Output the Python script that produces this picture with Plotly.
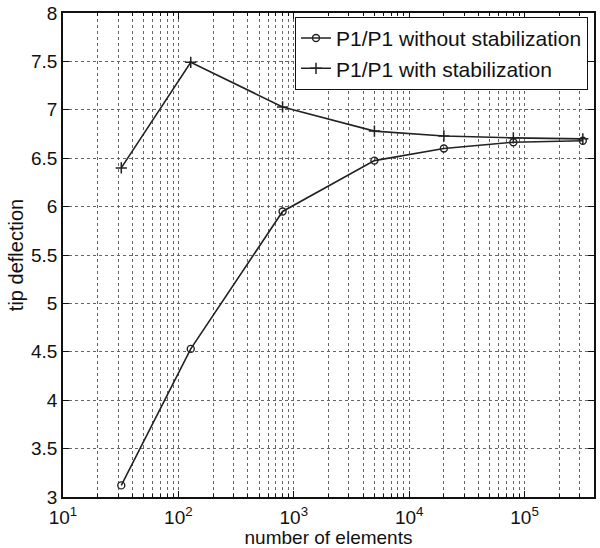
import numpy as np
import plotly.graph_objects as go

# number of elements (x) and tip deflection for the two formulations
n_elements = [32, 128, 800, 5000, 20000, 80000, 320000]
without_stab = [3.12, 4.53, 5.95, 6.475, 6.60, 6.665, 6.68]
with_stab = [6.40, 7.49, 7.03, 6.78, 6.73, 6.71, 6.70]

x_major = [10, 100, 1000, 10000, 100000]
x_major_text = ["10<sup>1</sup>", "10<sup>2</sup>", "10<sup>3</sup>",
                "10<sup>4</sup>", "10<sup>5</sup>"]
x_minor = [k * 10 ** e for e in range(1, 6) for k in range(2, 10) if k * 10 ** e < 400000]

line_color = "#222222"
grid_color = "#666666"
font_family = "Liberation Sans, Arial, sans-serif"

fig = go.Figure()

fig.add_trace(
    go.Scatter(
        x=n_elements,
        y=without_stab,
        mode="lines+markers",
        name="P1/P1 without stabilization",
        line=dict(color=line_color, width=1.6),
        marker=dict(symbol="circle-open", size=7, color=line_color, line=dict(width=1.4))
    )
)

fig.add_trace(
    go.Scatter(
        x=n_elements,
        y=with_stab,
        mode="lines+markers",
        name="P1/P1 with stabilization",
        line=dict(color=line_color, width=1.6),
        marker=dict(symbol="cross-thin-open", size=8, color=line_color, line=dict(width=1.5, color=line_color))
    )
)

fig.update_layout(
    width=600,
    height=548,
    margin=dict(l=63, r=6, t=13, b=51),
    paper_bgcolor="white",
    plot_bgcolor="white",
    font=dict(family=font_family, size=19, color="#111111"),
    showlegend=True,
    legend=dict(
        x=0.9887,
        y=0.992,
        xanchor="right",
        yanchor="top",
        bgcolor="white",
        bordercolor="#111111",
        borderwidth=1,
        font=dict(size=21),
        itemwidth=30,
        tracegroupgap=0
    )
)

fig.update_xaxes(
    type="log",
    range=[1, np.log10(400000)],
    tickmode="array",
    tickvals=x_major,
    ticktext=x_major_text,
    ticks="inside",
    ticklen=6,
    tickcolor="#111111",
    ticklabelstandoff=2,
    showline=True,
    linecolor="#111111",
    linewidth=1.5,
    mirror="ticks",
    showgrid=True,
    gridcolor=grid_color,
    griddash="dot",
    gridwidth=1,
    zeroline=False,
    automargin=False,
    title=dict(text="number of elements", standoff=3, font=dict(size=19)),
    minor=dict(
        tickmode="array",
        tickvals=x_minor,
        ticks="inside",
        ticklen=3,
        tickcolor="#111111",
        showgrid=True,
        gridcolor=grid_color,
        griddash="dot",
        gridwidth=1
    )
)

fig.update_yaxes(
    range=[3, 8],
    dtick=0.5,
    ticks="inside",
    ticklen=6,
    tickcolor="#111111",
    showline=True,
    linecolor="#111111",
    linewidth=1.5,
    mirror="ticks",
    showgrid=True,
    gridcolor=grid_color,
    griddash="dot",
    gridwidth=1,
    zeroline=False,
    automargin=False,
    title=dict(text="tip deflection", standoff=2, font=dict(size=20))
)

# drop the default 8px page margin so the figure fills the window exactly
fig.write_html(
    "out.html",
    config={"displayModeBar": False},
    post_script="document.body.style.margin = '0';"
)
